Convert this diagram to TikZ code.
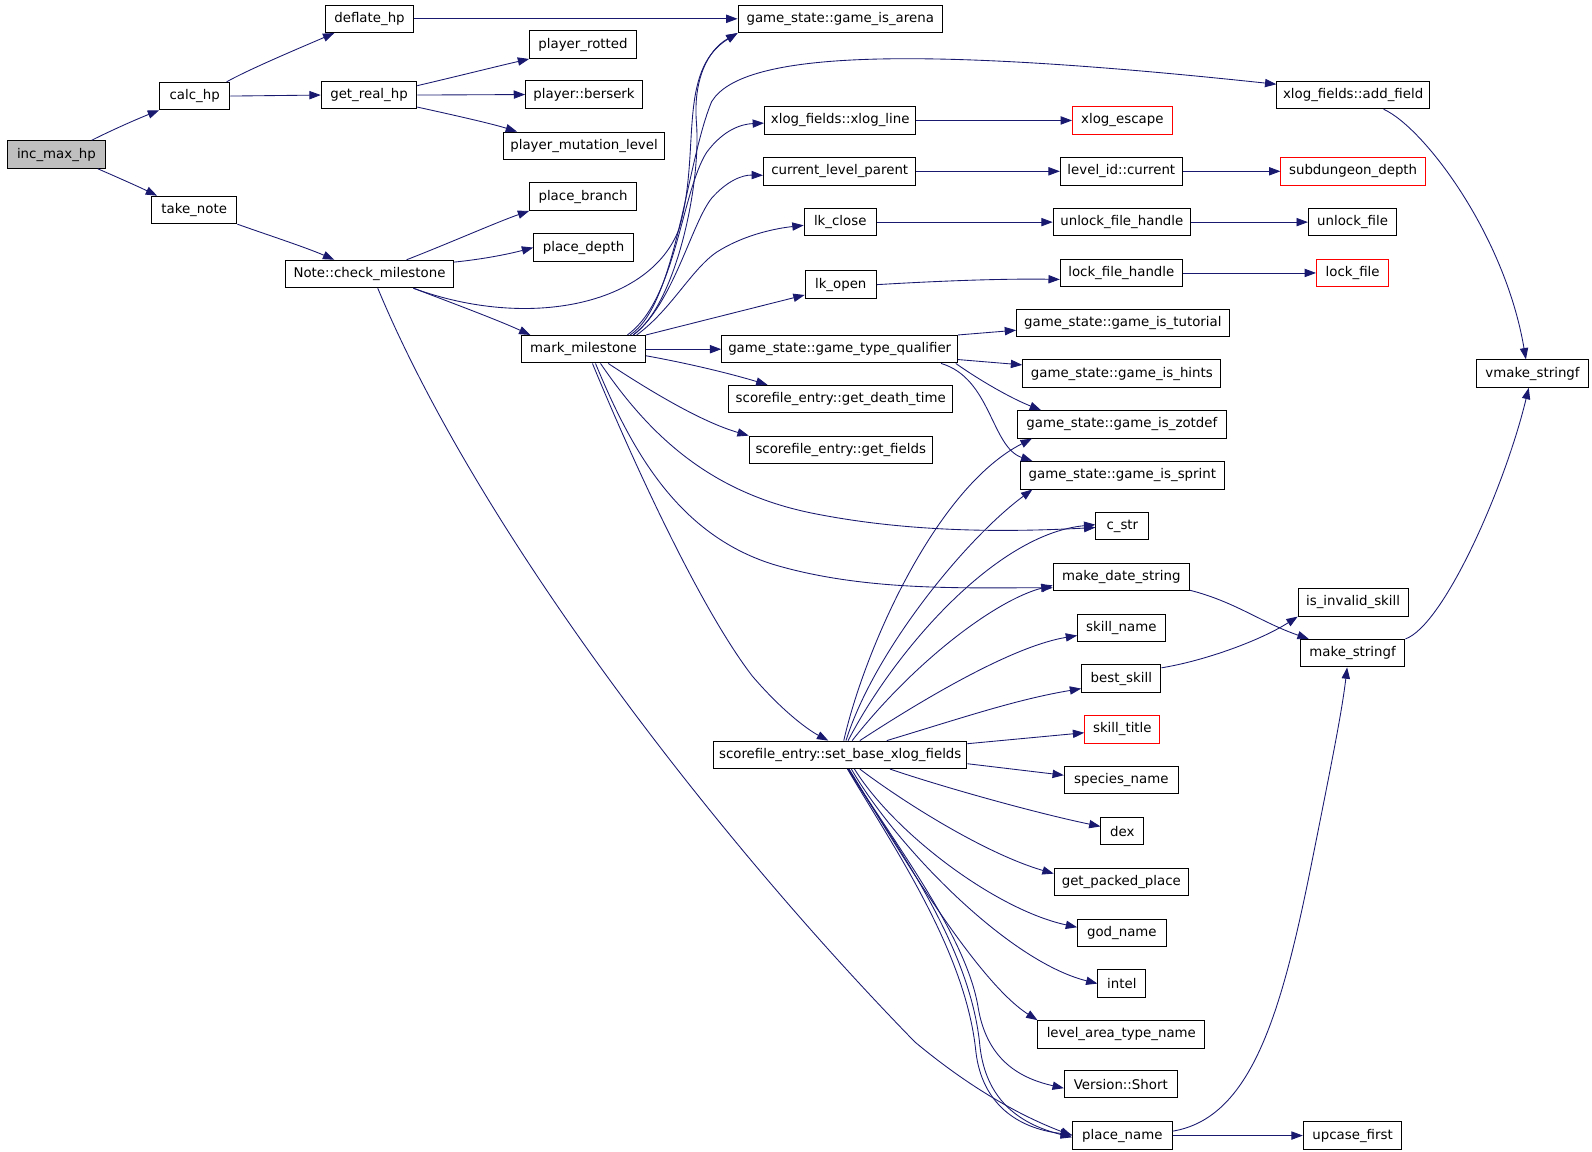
\documentclass[tikz,border=0pt]{standalone}
\usepackage{fontspec}
\setmainfont{DejaVu Sans}
\usepackage{tikz}
\usetikzlibrary{arrows.meta}
\definecolor{edgeblue}{HTML}{191970}
\tikzstyle{fn}=[draw, rectangle, inner sep=0pt, minimum height=20.6pt, line width=0.75pt, font=\fontsize{10}{12}\selectfont]
\tikzstyle{fnred}=[fn, draw=red]
\tikzstyle{fnroot}=[fn, fill=black!25]
\tikzstyle{call}=[draw=edgeblue, line width=0.65pt, -{Triangle[length=8.5pt, width=6.2pt]}]
\tikzset{wd/.style={minimum width=#1*0.762pt}}

\begin{document}
\begin{tikzpicture}[x=0.762pt, y=-0.762pt]
  \useasboundingbox (0,0) rectangle (1566,1133);
  \node[fnroot, wd=97] (incmaxhp) at (55.5,152) {inc\_max\_hp};
  \node[fn, wd=69] (calchp) at (191.5,94.5) {calc\_hp};
  \node[fn, wd=84] (takenote) at (191,206.5) {take\_note};
  \node[fn, wd=87] (deflatehp) at (363.5,18.5) {deflate\_hp};
  \node[fn, wd=94] (getrealhp) at (363,93.5) {get\_real\_hp};
  \node[fn, wd=165] (checkms) at (363.5,269.5) {Note::check\_milestone};
  \node[fn, wd=105] (rotted) at (573.5,44) {player\_rotted};
  \node[fn, wd=115] (berserk) at (574.5,93) {player::berserk};
  \node[fn, wd=159] (mutlevel) at (574.5,143.5) {player\_mutation\_level};
  \node[fn, wd=105] (placebranch) at (573.5,193.5) {place\_branch};
  \node[fn, wd=98] (placedepth) at (574,243.5) {place\_depth};
  \node[fn, wd=122] (markms) at (574,343.5) {mark\_milestone};
  \node[fn, wd=201] (isarena) at (826.5,18.5) {game\_state::game\_is\_arena};
  \node[fn, wd=149] (xlogline) at (826.5,118.5) {xlog\_fields::xlog\_line};
  \node[fn, wd=150] (curparent) at (826,168.5) {current\_level\_parent};
  \node[fn, wd=71] (lkclose) at (826.5,218.5) {lk\_close};
  \node[fn, wd=70] (lkopen) at (827,280) {lk\_open};
  \node[fn, wd=232] (typequal) at (826,343.5) {game\_state::game\_type\_qualifier};
  \node[fn, wd=220] (deathtime) at (827,392.5) {scorefile\_entry::get\_death\_time};
  \node[fn, wd=180] (getfields) at (827,442.5) {scorefile\_entry::get\_fields};
  \node[fn, wd=249] (setbase) at (826.5,742.5) {scorefile\_entry::set\_base\_xlog\_fields};
  \node[fnred, wd=98] (xlogescape) at (1104,118.5) {xlog\_escape};
  \node[fn, wd=120] (levelcur) at (1103,168.5) {level\_id::current};
  \node[fn, wd=135] (unlockh) at (1103.5,218.5) {unlock\_file\_handle};
  \node[fn, wd=120] (lockh) at (1103,268.5) {lock\_file\_handle};
  \node[fn, wd=209] (istutorial) at (1104.5,317.5) {game\_state::game\_is\_tutorial};
  \node[fn, wd=195] (ishints) at (1103.5,367.5) {game\_state::game\_is\_hints};
  \node[fn, wd=205] (iszotdef) at (1103.5,417.5) {game\_state::game\_is\_zotdef};
  \node[fn, wd=200] (issprint) at (1104,467.5) {game\_state::game\_is\_sprint};
  \node[fn, wd=52] (cstr) at (1104,517.5) {c\_str};
  \node[fn, wd=134] (datestr) at (1103,567.5) {make\_date\_string};
  \node[fn, wd=86] (skillname) at (1103,617.5) {skill\_name};
  \node[fn, wd=78] (bestskill) at (1103,667.5) {best\_skill};
  \node[fnred, wd=74] (skilltitle) at (1104,717.5) {skill\_title};
  \node[fn, wd=112] (species) at (1103,767.5) {species\_name};
  \node[fn, wd=42] (dex) at (1104,817.5) {dex};
  \node[fn, wd=132] (packed) at (1103,867.5) {get\_packed\_place};
  \node[fn, wd=87] (godname) at (1103.5,917.5) {god\_name};
  \node[fn, wd=47] (intel) at (1103.5,967.5) {intel};
  \node[fn, wd=164] (areatype) at (1103,1017.5) {level\_area\_type\_name};
  \node[fn, wd=111] (vshort) at (1102.5,1066.5) {Version::Short};
  \node[fn, wd=98] (placename) at (1104,1117) {place\_name};
  \node[fn, wd=150] (addfield) at (1331,93.5) {xlog\_fields::add\_field};
  \node[fnred, wd=142] (subdepth) at (1331,168.5) {subdungeon\_depth};
  \node[fn, wd=87] (unlockf) at (1330.5,218.5) {unlock\_file};
  \node[fnred, wd=71] (lockf) at (1330.5,268.5) {lock\_file};
  \node[fn, wd=108] (invalid) at (1331,592.5) {is\_invalid\_skill};
  \node[fn, wd=103] (mkstringf) at (1330.5,642.5) {make\_stringf};
  \node[fn, wd=97] (upcase) at (1330.5,1117) {upcase\_first};
  \node[fn, wd=111] (vmkstringf) at (1507.5,367.5) {vmake\_stringf};

  \draw[call] (incmaxhp.22) .. controls (110,128) and (135,117) .. (calchp.south west);
  \draw[call] (incmaxhp.-19) .. controls (110,172) and (135,183) .. (takenote.159);
  \draw[call] (calchp.24) .. controls (245,68) and (300,45) .. (deflatehp.202);
  \draw[call] (calchp.east) -- (getrealhp.west);
  \draw[call] (takenote.south east) .. controls (260,230) and (300,243) .. (checkms.158);
  \draw[call] (deflatehp.east) -- (isarena.west);
  \draw[call] (getrealhp.11) .. controls (450,75) and (490,65) .. (rotted.south west);
  \draw[call] (getrealhp.east) -- (berserk.west);
  \draw[call] (getrealhp.-14) .. controls (450,114) and (485,122) .. (mutlevel.168);

  \draw[call] (checkms.21) .. controls (440,240) and (490,218) .. (placebranch.south west);
  \draw[call] (checkms.8) .. controls (475,255) and (500,250) .. (placedepth.west);
  \draw[call] (checkms.-18) .. controls (520,325) and (640,300) .. (668,225) .. controls (690,150) and (665,70) .. (isarena.south west);
  \draw[call] (checkms.-18) .. controls (450,300) and (490,315) .. (markms.165);
  \draw[call] (checkms.-60) .. controls (470,520) and (700,820) .. (900,1025) .. controls (960,1075) and (1010,1100) .. (placename.west);

  \draw[call] (markms.16) .. controls (665,300) and (690,180) .. (685,120) .. controls (682,80) and (695,50) .. (isarena.south west);
  \draw[call] (markms.17) .. controls (665,300) and (675,160) .. (700,100) .. controls (730,50) and (900,45) .. (addfield.172);
  \draw[call] (markms.18) .. controls (665,295) and (670,190) .. (695,150) .. controls (712,127) and (730,122) .. (xlogline.182);
  \draw[call] (markms.16) .. controls (662,300) and (680,220) .. (700,195) .. controls (715,178) and (730,172) .. (curparent.183);
  \draw[call] (markms.15) .. controls (660,305) and (680,265) .. (705,248) .. controls (730,232) and (760,225) .. (lkclose.185);
  \draw[call] (markms.north east) -- (lkopen.196);
  \draw[call] (markms.east) -- (typequal.west);
  \draw[call] (markms.-6) .. controls (680,358) and (720,368) .. (deathtime.169);
  \draw[call] (markms.-30) .. controls (640,385) and (690,415) .. (getfields.north west);
  \draw[call] (markms.-40) .. controls (640,430) and (700,485) .. (800,505) .. controls (900,525) and (1000,523) .. (cstr.183);
  \draw[call] (markms.-50) .. controls (620,440) and (665,525) .. (760,555) .. controls (850,582) and (950,578) .. (datestr.189);
  \draw[call] (markms.-58) .. controls (625,460) and (690,600) .. (740,665) .. controls (770,700) and (795,718) .. (setbase.130);

  \draw[call] (typequal.north east) -- (istutorial.184);
  \draw[call] (typequal.-5) -- (ishints.175);
  \draw[call] (typequal.-7) .. controls (965,375) and (995,392) .. (iszotdef.170);
  \draw[call] (typequal.-8) .. controls (975,372) and (975,440) .. (issprint.171);

  \draw[call] (setbase.76) .. controls (850,640) and (920,480) .. (iszotdef.189);
  \draw[call] (setbase.68) .. controls (860,640) and (950,530) .. (issprint.189);
  \draw[call] (setbase.61) .. controls (880,640) and (980,525) .. (cstr.177);
  \draw[call] (setbase.50) .. controls (900,650) and (980,590) .. (datestr.187);
  \draw[call] (setbase.36) .. controls (920,680) and (1000,635) .. (skillname.190);
  \draw[call] (setbase.17) .. controls (950,705) and (1000,688) .. (bestskill.194);
  \draw[call] (setbase.5) -- (skilltitle.185);
  \draw[call] (setbase.-4) -- (species.175);
  \draw[call] (setbase.-16) .. controls (930,775) and (1020,800) .. (dex.168);
  \draw[call] (setbase.-36) .. controls (890,790) and (970,840) .. (packed.173);
  \draw[call] (setbase.-45) .. controls (880,820) and (980,895) .. (godname.173);
  \draw[call] (setbase.-52) .. controls (880,830) and (990,945) .. (intel.west);
  \draw[call] (setbase.-58) .. controls (880,830) and (960,965) .. (areatype.north west);
  \draw[call] (setbase.-60) .. controls (880,830) and (950,920) .. (962,990) .. controls (970,1040) and (1000,1060) .. (vshort.184);
  \draw[call] (setbase.-62) .. controls (880,830) and (955,930) .. (964,1030) .. controls (970,1080) and (1000,1105) .. (placename.182);
  \draw[call] (setbase.-63) .. controls (878,832) and (950,935) .. (960,1035) .. controls (966,1085) and (1000,1110) .. (placename.179);

  \draw[call] (xlogline.east) -- (xlogescape.west);
  \draw[call] (curparent.east) -- (levelcur.west);
  \draw[call] (levelcur.east) -- (subdepth.west);
  \draw[call] (lkclose.east) -- (unlockh.west);
  \draw[call] (unlockh.east) -- (unlockf.west);
  \draw[call] (lkopen.east) .. controls (930,276) and (990,274) .. (lockh.186);
  \draw[call] (lockh.east) -- (lockf.west);
  \draw[call] (addfield.-25) .. controls (1400,125) and (1480,230) .. (vmkstringf.115);
  \draw[call] (mkstringf.north east) .. controls (1420,615) and (1480,480) .. (vmkstringf.-105);
  \draw[call] (datestr.-11) .. controls (1215,592) and (1240,612) .. (mkstringf.162);
  \draw[call] (bestskill.15) .. controls (1185,650) and (1240,630) .. (invalid.south west);
  \draw[call] (placename.5) .. controls (1230,1100) and (1260,1000) .. (1290,850) .. controls (1310,750) and (1320,700) .. (mkstringf.-111);
  \draw[call] (placename.east) -- (upcase.west);
\end{tikzpicture}
\end{document}
